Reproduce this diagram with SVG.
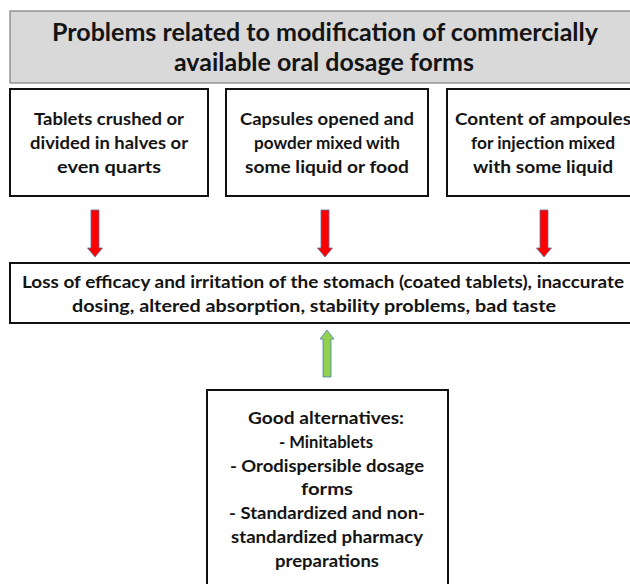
<svg xmlns="http://www.w3.org/2000/svg" xmlns:xlink="http://www.w3.org/1999/xlink" width="630" height="584" viewBox="0 0 630 584">
<style>
text{font-family:Lato,"Open Sans","Liberation Sans",sans-serif;font-weight:bold;fill:#141414;text-anchor:middle}
.t{font-size:25px}
.b{font-size:17px}
.box{fill:#ffffff;stroke:#111111;stroke-width:2}
.title{fill:#d9d9d9;stroke:#7f7f7f;stroke-width:1.2}
.red{fill:#ff0000;stroke:#5a6fa8;stroke-width:0.8}
.green{fill:#92d050;stroke:#4a7ebb;stroke-width:0.8}
</style>
<defs>
<path id="down" d="M-4,0 H4 V38 H7.5 L0,47 L-7.5,38 H-4 Z"/>
<path id="up" d="M-4,47 H4 V9 H7 L0,0 L-7,9 H-4 Z"/>
</defs>
<rect width="630" height="584" fill="#ffffff"/>
<g id="title">
<rect class="title" x="10" y="11" width="640" height="72"/>
<text class="t" x="325" y="41" textLength="546" lengthAdjust="spacingAndGlyphs">Problems related to modification of commercially</text>
<text class="t" x="324" y="71" textLength="300" lengthAdjust="spacingAndGlyphs">available oral dosage forms</text>
</g>
<g id="tablets">
<rect class="box" x="10" y="89" width="198" height="107"/>
<text class="b" x="109" y="125" textLength="150" lengthAdjust="spacingAndGlyphs">Tablets crushed or</text>
<text class="b" x="109" y="149" textLength="158" lengthAdjust="spacingAndGlyphs">divided in halves or</text>
<text class="b" x="109" y="173" textLength="104" lengthAdjust="spacingAndGlyphs">even quarts</text>
</g>
<g id="capsules">
<rect class="box" x="226" y="89" width="202" height="107"/>
<text class="b" x="327" y="125" textLength="174" lengthAdjust="spacingAndGlyphs">Capsules opened and</text>
<text class="b" x="327" y="149" textLength="146" lengthAdjust="spacingAndGlyphs">powder mixed with</text>
<text class="b" x="327" y="173" textLength="164" lengthAdjust="spacingAndGlyphs">some liquid or food</text>
</g>
<g id="ampoules">
<rect class="box" x="447" y="89" width="200" height="107"/>
<text class="b" x="543" y="125" textLength="176" lengthAdjust="spacingAndGlyphs">Content of ampoules</text>
<text class="b" x="543" y="149" textLength="144" lengthAdjust="spacingAndGlyphs">for injection mixed</text>
<text class="b" x="543" y="173" textLength="140" lengthAdjust="spacingAndGlyphs">with some liquid</text>
</g>
<g id="problems">
<rect class="box" x="10" y="263" width="640" height="60"/>
<text class="b" x="323" y="288" textLength="602" lengthAdjust="spacingAndGlyphs">Loss of efficacy and irritation of the stomach (coated tablets), inaccurate</text>
<text class="b" x="314" y="312" textLength="484" lengthAdjust="spacingAndGlyphs">dosing, altered absorption, stability problems, bad taste</text>
</g>
<g id="alternatives">
<rect class="box" x="207" y="390" width="241" height="210"/>
<text class="b" x="326" y="424" textLength="156" lengthAdjust="spacingAndGlyphs">Good alternatives:</text>
<text class="b" x="326" y="448" textLength="94" lengthAdjust="spacingAndGlyphs">- Minitablets</text>
<text class="b" x="327" y="472" textLength="194" lengthAdjust="spacingAndGlyphs">- Orodispersible dosage</text>
<text class="b" x="327" y="495" textLength="52" lengthAdjust="spacingAndGlyphs">forms</text>
<text class="b" x="327" y="519" textLength="196" lengthAdjust="spacingAndGlyphs">- Standardized and non-</text>
<text class="b" x="327" y="543" textLength="192" lengthAdjust="spacingAndGlyphs">standardized pharmacy</text>
<text class="b" x="327" y="567" textLength="104" lengthAdjust="spacingAndGlyphs">preparations</text>
</g>
<g id="connectors">
<use xlink:href="#down" class="red" x="95" y="210"/>
<use xlink:href="#down" class="red" x="325" y="210"/>
<use xlink:href="#down" class="red" x="544" y="210"/>
<use xlink:href="#up" class="green" x="327" y="330"/>
</g>
</svg>
